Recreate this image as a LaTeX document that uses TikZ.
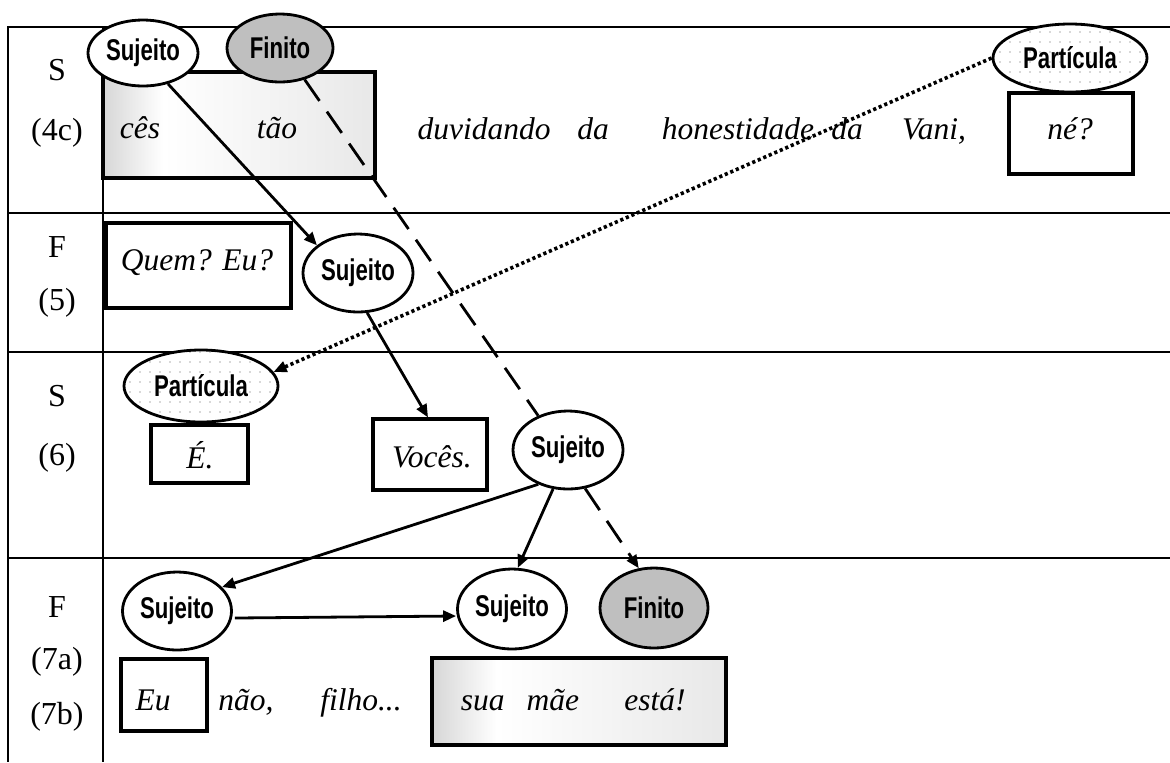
\documentclass[tikz,border=0pt]{standalone}
\usepackage{fontspec}
\setmainfont{Liberation Serif}
\newfontfamily\labfont[FakeStretch=0.74]{Liberation Sans}
\usetikzlibrary{arrows.meta,patterns.meta,shapes.geometric}
% light horizontal shading of the highlighted clause boxes
\pgfdeclarehorizontalshading{boxshade}{100bp}{color(0bp)=(gray!32); color(25bp)=(gray!32); color(36bp)=(white); color(75bp)=(gray!18); color(100bp)=(gray!18)}

\begin{document}
\begin{tikzpicture}[x=0.5pt,y=-0.5pt,
  rule/.style={line width=1.2pt},
  rowlbl/.style={anchor=base,inner sep=0pt,font=\fontsize{16}{19}\selectfont},
  word/.style={anchor=base,inner sep=0pt,font=\fontsize{15.75}{19}\selectfont\itshape},
  wbox/.style={draw,line width=1.6pt,rectangle,inner sep=0pt,fill=white},
  gbox/.style={draw,line width=1.6pt,rectangle,inner sep=0pt,shading=boxshade},
  role/.style={draw,ellipse,line width=1.4pt,inner sep=0pt,fill=white,
    font=\labfont\bfseries\fontsize{15}{17}\selectfont},
  fin/.style={role,fill=gray!50},
  part/.style={role,preaction={fill=white},pattern={Dots[distance=5pt,radius=0.45pt]},pattern color=gray!60},
  conn/.style={line width=1.4pt,-{Triangle[length=6.5pt,width=5.5pt]}},
  dashconn/.style={line width=1.4pt,dash pattern=on 13pt off 6.5pt},
  dotconn/.style={line width=1.8pt,dash pattern=on 1.6pt off 1.4pt,-{Triangle[length=6.5pt,width=5.5pt]}}
]
\useasboundingbox (0,0) rectangle (1170,762);

% table rules
\draw[rule] (1170,27) -- (8,27) -- (8,762);
\draw[rule] (103,27) -- (103,762);
\foreach \y in {213,352,558} \draw[rule] (8,\y) -- (1170,\y);

% row labels
\node[rowlbl] (l1) at (57,80) {S};
\node[rowlbl] (l2) at (57,140) {(4c)};
\node[rowlbl] (l3) at (57,257) {F};
\node[rowlbl] (l4) at (57,310) {(5)};
\node[rowlbl] (l5) at (57,406) {S};
\node[rowlbl] (l6) at (57,465) {(6)};
\node[rowlbl] (l7) at (57,617) {F};
\node[rowlbl] (l8) at (57,669) {(7a)};
\node[rowlbl] (l9) at (57,724) {(7b)};

% boxes around the clause elements
\node[gbox,minimum width=136pt,minimum height=53pt] (b1) at (239,125) {};
\node[wbox,minimum width=62pt,minimum height=40.5pt] (b2) at (1071,133.5) {};
\node[wbox,minimum width=92.5pt,minimum height=42.5pt] (b3) at (198.5,265.5) {};
\node[wbox,minimum width=48.5pt,minimum height=29pt] (b4) at (199.5,454) {};
\node[wbox,minimum width=57pt,minimum height=35.5pt] (b5) at (430,454.5) {};
\node[wbox,minimum width=43pt,minimum height=36pt] (b6) at (164,695) {};
\node[gbox,minimum width=147pt,minimum height=43.5pt] (b7) at (579,701.5) {};

% utterances
\node[word] (w1) at (140,138) {cês};
\node[word] (w2) at (277,138) {tão};
\node[word] (w3) at (484,139) {duvidando};
\node[word] (w4) at (593,139) {da};
\node[word] (w5) at (738,139) {honestidade};
\node[word] (w6) at (847,139) {da};
\node[word] (w7) at (934,139) {Vani,};
\node[word] (w8) at (1070,139) {né?};
\node[word] (w9) at (197,270) {Quem? Eu?};
\node[word] (w10) at (200,468) {É.};
\node[word] (w11) at (432,467) {Vocês.};
\node[word] (w12) at (153,710) {Eu};
\node[word] (w13) at (246,710) {não,};
\node[word] (w14) at (361,710) {filho...};
\node[word] (w15) at (520,710) {sua\hspace{0.45em} mãe};
\node[word] (w16) at (655,710) {está!};

% functional roles
\node[role,minimum width=55pt,minimum height=33pt] (s1) at (143,53) {Sujeito};
\node[fin,minimum width=53pt,minimum height=34pt] (f1) at (280,48) {Finito};
\node[part,minimum width=77pt,minimum height=34pt] (p1) at (1070,58) {Partícula};
\node[role,minimum width=55pt,minimum height=39pt] (s2) at (358,273) {Sujeito};
\node[part,minimum width=77pt,minimum height=36pt] (p3) at (201,386) {Partícula};
\node[role,minimum width=55pt,minimum height=39pt] (s3) at (568,450) {Sujeito};
\node[role,minimum width=54.5pt,minimum height=39pt] (s4l) at (177,611) {Sujeito};
\node[role,minimum width=54.5pt,minimum height=40pt] (s4m) at (512,609) {Sujeito};
\node[fin,minimum width=54pt,minimum height=40pt] (f4) at (654,608) {Finito};

% connectors
\draw[conn] (s1.-51) -- (s2.146);
\draw[conn] (s2.-77) -- ([xshift=-1pt]b5.north);
\draw[dashconn] (f1.-52) -- (s3.131);
\draw[dashconn,-{Triangle[length=6.5pt,width=5.5pt]}] (s3.-66) -- (f4.111);
\draw[conn] (s3.-111) -- (s4m.82);
\draw[conn] (s3.-131) -- (s4l.28);
\draw[conn] ([yshift=-3.5pt,xshift=1pt]s4l.east) -- ([yshift=-3.5pt]s4m.west);
\draw[dotconn] (p1.west) -- (p3.11);
\end{tikzpicture}
\end{document}
